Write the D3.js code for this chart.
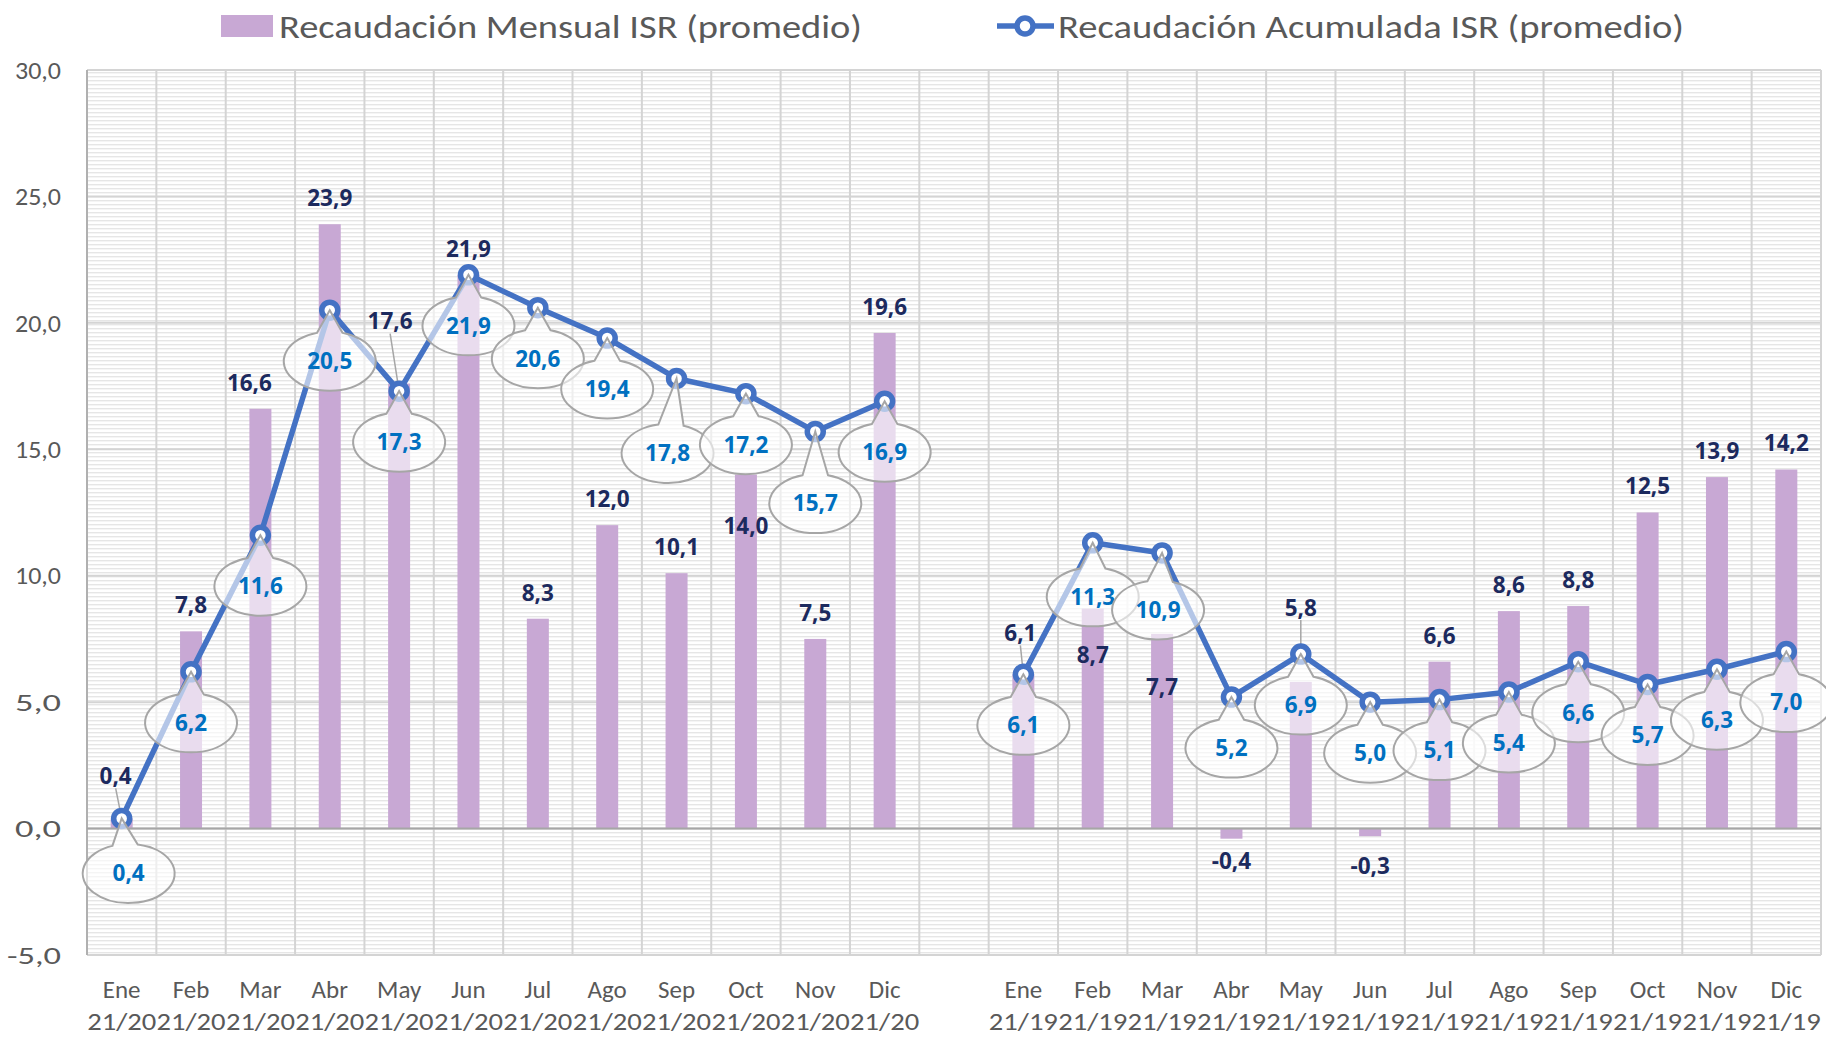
<!DOCTYPE html>
<html>
<head>
<meta charset="utf-8">
<script src="https://cdn.jsdelivr.net/npm/d3@7"></script>
<style>
  body { margin: 0; background: #fff; }
  svg { display: block; }
</style>
</head>
<body>
<div id="canvas"></div>
<script>
// datos (promedio, %)
const months = ["Ene", "Feb", "Mar", "Abr", "May", "Jun", "Jul", "Ago", "Sep", "Oct", "Nov", "Dic"];
const yearTags = ["21/20", "21/19"];
const mensual2020 = [0.4, 7.8, 16.6, 23.9, 17.6, 21.9, 8.3, 12.0, 10.1, 14.0, 7.5, 19.6];
const acumulada2020 = [0.4, 6.2, 11.6, 20.5, 17.3, 21.9, 20.6, 19.4, 17.8, 17.2, 15.7, 16.9];
const mensual2019 = [6.1, 8.7, 7.7, -0.4, 5.8, -0.3, 6.6, 8.6, 8.8, 12.5, 13.9, 14.2];
const acumulada2019 = [6.1, 11.3, 10.9, 5.2, 6.9, 5.0, 5.1, 5.4, 6.6, 5.7, 6.3, 7.0];
const yTicks = [-5, 0, 5, 10, 15, 20, 25, 30];
const seriesNames = ["Recaudación Mensual ISR (promedio)", "Recaudación Acumulada ISR (promedio)"];

// ajustes manuales de etiquetas (como en el original), clave = grupo-mes
const barLabelShift = {
  "0-0": { dx: -6, dy: -42, leader: true },
  "0-2": { dx: -11, dy: -26 },
  "0-4": { dx: -9, dy: -62, leader: true },
  "0-9": { dx: 0, dy: 52 },
  "1-0": { dx: -3, dy: -41, leader: true },
  "1-1": { dx: 0, dy: 47 },
  "1-2": { dx: 0, dy: 53 },
  "1-3": { dx: 0, dy: 22 },
  "1-4": { dx: 0, dy: -74, leader: true },
  "1-5": { dx: 0, dy: 30 }
};
const calloutShift = {
  "0-0": { dx: 7, dy: 55 },
  "0-8": { dx: -9, dy: 75 },
  "0-10": { dx: 0, dy: 72 },
  "1-1": { dx: 0, dy: 54 },
  "1-2": { dx: -4, dy: 57 }
};

const groups = [
  { tag: yearTags[0], mensual: mensual2020, acum: acumulada2020 },
  { tag: yearTags[1], mensual: mensual2019, acum: acumulada2019 }
];

// 12 meses 2020, un hueco, 12 meses 2019
const rows = [];
groups.forEach((g, gi) => {
  months.forEach((m, i) => {
    rows.push({ key: gi + "-" + i, month: m, tag: g.tag, gi: gi, i: i, mensual: g.mensual[i], acum: g.acum[i] });
  });
  if (gi === 0) rows.push({ key: "gap", gap: true });
});

const width = 1826;
const height = 1038;
const margin = { top: 70, left: 87, bottom: 83, right: 5 };
const axisFont = "Carlito, Calibri, 'Liberation Sans Narrow', 'Open Sans', sans-serif";

const svg = d3.select("#canvas").append("svg")
  .attr("width", width)
  .attr("height", height);

const x = d3.scaleBand()
  .domain(rows.map(d => d.key))
  .range([margin.left, width - margin.right])
  .padding(0);

const y = d3.scaleLinear()
  .domain([-5, 30])
  .range([height - margin.bottom, margin.top]);

const cx = d => x(d.key) + x.bandwidth() / 2;

// fondo rayado
const defs = svg.append("defs");
defs.append("pattern")
  .attr("id", "hatch")
  .attr("patternUnits", "userSpaceOnUse")
  .attr("width", 8).attr("height", 4)
  .append("rect")
  .attr("x", 0).attr("y", 0).attr("width", 8).attr("height", 1.4)
  .attr("fill", "#e6e6e6");

svg.append("rect")
  .attr("x", margin.left).attr("y", y(30))
  .attr("width", x.range()[1] - margin.left)
  .attr("height", y(-5) - y(30))
  .attr("fill", "url(#hatch)");

// rejilla
const grid = svg.append("g");
grid.selectAll("line.h").data(yTicks).enter().append("line")
  .attr("class", "h")
  .attr("x1", margin.left).attr("x2", x.range()[1])
  .attr("y1", d => y(d)).attr("y2", d => y(d))
  .attr("stroke", "#d4d4d4").attr("stroke-width", 2);

const bounds = rows.map(d => x(d.key)).concat([x.range()[1]]);
grid.selectAll("line.v").data(bounds).enter().append("line")
  .attr("class", "v")
  .attr("x1", d => d).attr("x2", d => d)
  .attr("y1", y(30)).attr("y2", y(-5))
  .attr("stroke", (d, i) => i === 0 ? "#b0b0b0" : "#d4d4d4")
  .attr("stroke-width", 2);

const months2 = rows.filter(d => !d.gap);

// barras
svg.append("g").selectAll("rect").data(months2).enter().append("rect")
  .attr("x", d => cx(d) - 11)
  .attr("width", 22)
  .attr("y", d => y(Math.max(0, d.mensual)))
  .attr("height", d => Math.abs(y(d.mensual) - y(0)))
  .attr("fill", "#c8a8d4");

// linea del cero
svg.append("line")
  .attr("x1", margin.left).attr("x2", x.range()[1])
  .attr("y1", y(0)).attr("y2", y(0))
  .attr("stroke", "#a6a6a6").attr("stroke-width", 2);

const fmt = v => d3.format(".1f")(v).replace(".", ",").replace("−", "-");

// eje y
svg.append("g").selectAll("text").data(yTicks).enter().append("text")
  .attr("x", 61).attr("y", d => y(d))
  .attr("dy", "0.35em")
  .attr("text-anchor", "end")
  .attr("textLength", d => d < 0 ? 54 : 46)
  .attr("lengthAdjust", "spacingAndGlyphs")
  .style("font-family", axisFont)
  .style("font-size", "25px")
  .attr("fill", "#595959")
  .text(d => fmt(d));

// eje x
const xl = svg.append("g").selectAll("text").data(months2).enter().append("text")
  .attr("text-anchor", "middle")
  .style("font-family", axisFont)
  .style("font-size", "25px")
  .attr("fill", "#595959");
xl.append("tspan").attr("x", d => cx(d)).attr("y", 998).text(d => d.month);
xl.append("tspan").attr("x", d => cx(d)).attr("y", 1030)
  .attr("textLength", 69).attr("lengthAdjust", "spacingAndGlyphs").text(d => d.tag);

// lineas guia de etiquetas
const barPos = d => {
  const s = barLabelShift[d.key] || { dx: 0, dy: d.mensual < 0 ? 24 : -26 };
  return { x: cx(d) + s.dx, y: y(d.mensual) + s.dy, leader: s.leader };
};
svg.append("g").selectAll("line").data(months2.filter(d => barPos(d).leader)).enter().append("line")
  .attr("x1", d => barPos(d).x).attr("y1", d => barPos(d).y + 12)
  .attr("x2", d => cx(d)).attr("y2", d => y(d.acum))
  .attr("stroke", "#a6a6a6").attr("stroke-width", 1.5);

// linea acumulada
const line = d3.line().x(d => cx(d)).y(d => y(d.acum));
[0, 1].forEach(gi => {
  svg.append("path")
    .datum(months2.filter(d => d.gi === gi))
    .attr("d", line)
    .attr("fill", "none")
    .attr("stroke", "#4472c4")
    .attr("stroke-width", 5.5)
    .attr("stroke-linejoin", "round");
});
svg.append("g").selectAll("circle").data(months2).enter().append("circle")
  .attr("cx", d => cx(d)).attr("cy", d => y(d.acum))
  .attr("r", 8)
  .attr("fill", "#fff")
  .attr("stroke", "#4472c4")
  .attr("stroke-width", 5.5);

// etiquetas de barras
svg.append("g").selectAll("text").data(months2).enter().append("text")
  .attr("x", d => barPos(d).x).attr("y", d => barPos(d).y)
  .attr("dy", "0.35em")
  .attr("text-anchor", "middle")
  .style("font-family", "'Open Sans', sans-serif")
  .style("font-size", "22.5px")
  .style("font-weight", "700")
  .attr("fill", "#1c2a5e")
  .text(d => fmt(d.mensual));

// globos de la linea acumulada
function calloutPath(ex, ey, px, py, rx, ry) {
  const t0 = Math.atan2((py - ey) / ry, (px - ex) / rx);
  const dd = 0.28;
  const b1 = [ex + rx * Math.cos(t0 - dd), ey + ry * Math.sin(t0 - dd)];
  const b2 = [ex + rx * Math.cos(t0 + dd), ey + ry * Math.sin(t0 + dd)];
  return `M${b1[0]},${b1[1]}L${px},${py}L${b2[0]},${b2[1]}A${rx},${ry} 0 1 1 ${b1[0]},${b1[1]}Z`;
}
const callPos = d => {
  const s = calloutShift[d.key] || { dx: 0, dy: 51 };
  return { x: cx(d) + s.dx, y: y(d.acum) + s.dy };
};
const calls = svg.append("g").selectAll("g").data(months2).enter().append("g");
calls.append("path")
  .attr("d", d => calloutPath(callPos(d).x, callPos(d).y, cx(d), y(d.acum), 46, 29.5))
  .attr("fill", "#fff")
  .attr("fill-opacity", 0.6)
  .attr("stroke", "#a6a6a6")
  .attr("stroke-width", 2);
calls.append("text")
  .attr("x", d => callPos(d).x).attr("y", d => callPos(d).y)
  .attr("dy", "0.35em")
  .attr("text-anchor", "middle")
  .style("font-family", "'Open Sans', sans-serif")
  .style("font-size", "22.5px")
  .style("font-weight", "700")
  .attr("fill", "#0070c0")
  .text(d => fmt(d.acum));

// leyenda
const leg = svg.append("g")
  .style("font-family", axisFont)
  .style("font-size", "32px")
  .attr("fill", "#595959");
leg.append("rect").attr("x", 221).attr("y", 15).attr("width", 52).attr("height", 22).attr("fill", "#c8a8d4");
leg.append("text").attr("x", 279).attr("y", 38).attr("textLength", 583).attr("lengthAdjust", "spacingAndGlyphs").text(seriesNames[0]);
leg.append("line").attr("x1", 997).attr("x2", 1054).attr("y1", 26).attr("y2", 26)
  .attr("stroke", "#4472c4").attr("stroke-width", 5.5);
leg.append("circle").attr("cx", 1025).attr("cy", 26).attr("r", 8)
  .attr("fill", "#fff").attr("stroke", "#4472c4").attr("stroke-width", 5.5);
leg.append("text").attr("x", 1058).attr("y", 38).attr("textLength", 626).attr("lengthAdjust", "spacingAndGlyphs").text(seriesNames[1]);
</script>
</body>
</html>
